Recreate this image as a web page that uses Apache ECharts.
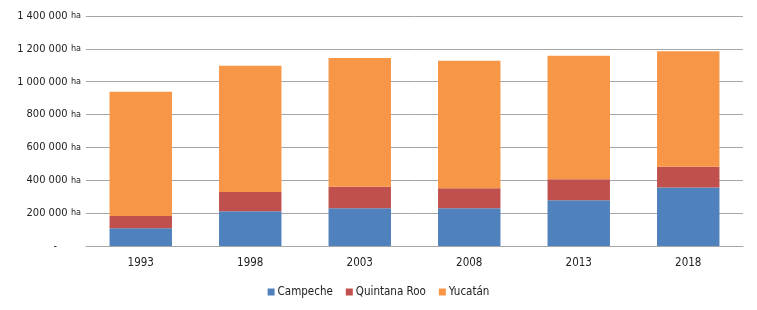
<!DOCTYPE html>
<html>
<head>
<meta charset="utf-8">
<script src="https://cdn.jsdelivr.net/npm/echarts@6/dist/echarts.min.js"></script>
<style>
  html, body { margin: 0; padding: 0; background: #fff; }
  #chart { width: 757px; height: 310px; }
</style>
</head>
<body>
<div id="chart"></div>
<script>
var years = ['1993', '1998', '2003', '2008', '2013', '2018']
var campeche = [108000, 212000, 230000, 230000, 279000, 356000]
var quintanaRoo = [74000, 117000, 131000, 122000, 127000, 127000]
var yucatan = [757000, 768000, 783000, 775000, 752000, 703000]

var fontFam = '"DejaVu Sans Condensed", sans-serif'

function fmtNum(v) {
  if (v === 0) return '{d|-}'
  var s = String(v).replace(/\B(?=(\d{3})+(?!\d))/g, ' ')
  return '{n|' + s + '} {u|ha}'
}

var chart = echarts.init(document.getElementById('chart'))
chart.setOption({
  animation: false,
  textStyle: { fontFamily: fontFam },
  grid: { left: 86, right: 14, top: 16, bottom: 64 },
  legend: {
    bottom: 7,
    left: 'center',
    itemWidth: 7,
    itemHeight: 7,
    itemGap: 13,
    icon: 'rect',
    textStyle: { color: '#222', fontSize: 11.5, fontFamily: fontFam, padding: [0, 0, 0, -2] },
    data: ['Campeche', 'Quintana Roo', 'Yucatán']
  },
  xAxis: {
    type: 'category',
    data: years,
    axisTick: { show: false },
    axisLine: { lineStyle: { color: '#a6a6a6', width: 1 } },
    axisLabel: { color: '#222', fontSize: 11.5, margin: 11, fontFamily: fontFam }
  },
  yAxis: {
    type: 'value',
    min: 0,
    max: 1400000,
    interval: 200000,
    axisLine: { show: false },
    axisTick: { show: false },
    splitLine: { lineStyle: { color: '#a6a6a6', width: 1 } },
    axisLabel: {
      margin: 5,
      formatter: fmtNum,
      rich: {
        n: { color: '#222', fontSize: 11, fontFamily: fontFam },
        u: { color: '#222', fontSize: 9, fontFamily: fontFam },
        d: { color: '#222', fontSize: 11, fontFamily: fontFam, padding: [0, 24, 0, 0] }
      }
    }
  },
  series: [
    { name: 'Campeche', type: 'bar', stack: 'a', barWidth: '57%', itemStyle: { color: '#4f81bd' }, data: campeche },
    { name: 'Quintana Roo', type: 'bar', stack: 'a', itemStyle: { color: '#c0504d' }, data: quintanaRoo },
    { name: 'Yucatán', type: 'bar', stack: 'a', itemStyle: { color: '#f79646' }, data: yucatan }
  ]
})
</script>
</body>
</html>
